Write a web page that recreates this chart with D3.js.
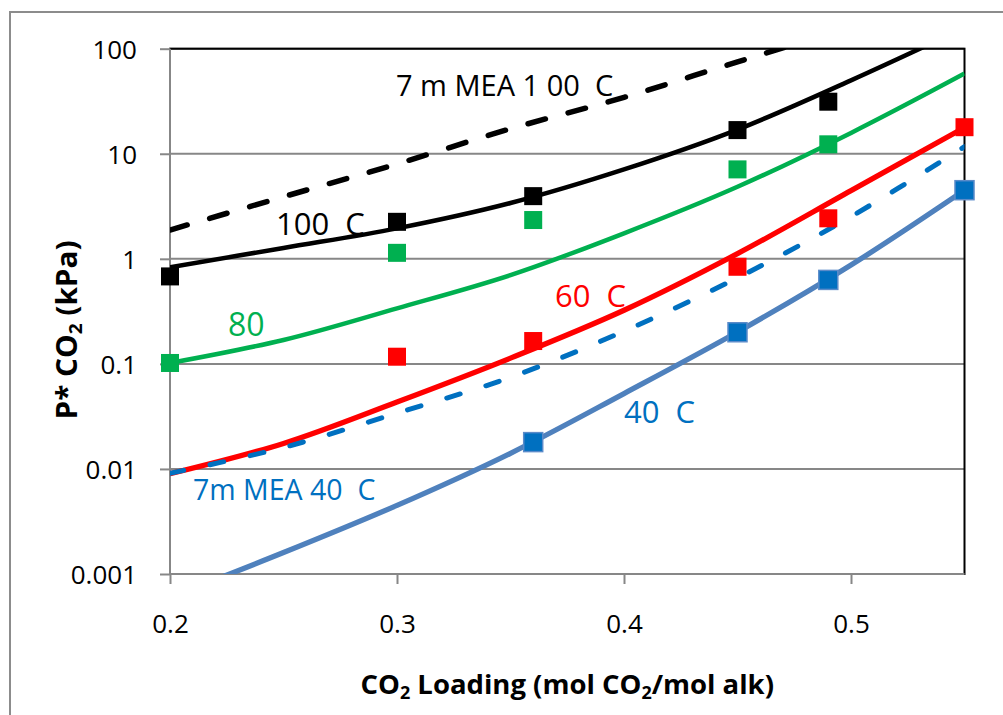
<!DOCTYPE html>
<html>
<head>
<meta charset="utf-8">
<script src="https://cdn.jsdelivr.net/npm/d3@7"></script>
<style>
  html, body { margin: 0; padding: 0; background: #fff; }
  svg { display: block; font-family: "Open Sans", "Noto Sans", sans-serif; }
  .lbl { white-space: pre; }
</style>
</head>
<body>
<svg id="chart" width="1003" height="715"></svg>
<script>
// Axis ticks
const xTicks = [0.2, 0.3, 0.4, 0.5];
const xTickLabels = ["0.2", "0.3", "0.4", "0.5"];
const yTicks = [0.001, 0.01, 0.1, 1, 10, 100];
const yTickLabels = ["0.001", "0.01", "0.1", "1", "10", "100"];

// Measured P* CO2 (kPa) vs CO2 loading
const loading100 = [0.2, 0.3, 0.36, 0.45, 0.49];
const pstar100 = [0.68, 2.25, 3.95, 16.8, 31.3];
const loading80 = [0.2, 0.3, 0.36, 0.45, 0.49];
const pstar80 = [0.102, 1.14, 2.34, 7.1, 12.3];
const loading60 = [0.3, 0.36, 0.45, 0.49, 0.55];
const pstar60 = [0.117, 0.165, 0.84, 2.43, 17.9];
const loading40 = [0.36, 0.45, 0.49, 0.55];
const pstar40 = [0.018, 0.2, 0.63, 4.5];

// Model curves
const curveLoading = [0.2, 0.25, 0.3, 0.35, 0.4, 0.45, 0.5, 0.55];
const model100 = [0.83, 1.27, 1.95, 3.4, 7.1, 17, 50, 158];
const model80 = [0.102, 0.169, 0.338, 0.70, 1.75, 4.85, 15.8, 58];
const model60 = [0.009, 0.0175, 0.0434, 0.1135, 0.324, 1.12, 4.46, 17.8];
const model40 = [0.0006, 0.0016, 0.0045, 0.0141, 0.0522, 0.201, 0.873, 4.5];
// 7 m MEA reference curves
const mea40 = [0.0091, 0.016, 0.034, 0.0745, 0.205, 0.66, 2.52, 11.7];
const meaLoading100 = [0.2, 0.25, 0.3, 0.35, 0.4, 0.45, 0.5];
const mea100 = [1.88, 3.9, 8.0, 17.3, 34.4, 75, 160];

const svg = d3.select("#chart");
const plotL = 170, plotR = 964.5, plotT = 48.7, plotB = 574;

const x = d3.scaleLinear().domain([0.2, 0.55]).range([plotL, plotR]);
const y = d3.scaleLog().domain([0.001, 100]).range([plotB, plotT]);

const zip = (xs, ys) => xs.map((v, i) => ({ x: v, y: ys[i] }));

// chart area frame
svg.append("rect")
  .attr("x", 10).attr("y", 12).attr("width", 1010).attr("height", 720)
  .attr("fill", "#fff").attr("stroke", "#8c8c8c").attr("stroke-width", 2);

// horizontal gridlines at each decade
svg.append("g")
  .selectAll("line").data(yTicks).join("line")
  .attr("x1", plotL).attr("x2", plotR)
  .attr("y1", d => y(d)).attr("y2", d => y(d))
  .attr("stroke", "#878787").attr("stroke-width", 2);

// plot area border
svg.append("rect")
  .attr("x", plotL).attr("y", plotT).attr("width", plotR - plotL).attr("height", plotB - plotT)
  .attr("fill", "none").attr("stroke", "#000").attr("stroke-width", 2);

// axes
const yAxis = d3.axisLeft(y).tickValues(yTicks)
  .tickFormat((d, i) => yTickLabels[i]).tickSize(10).tickPadding(23);
const gy = svg.append("g").attr("transform", `translate(${plotL},0)`).call(yAxis);

const xAxis = d3.axisBottom(x).tickValues(xTicks)
  .tickFormat((d, i) => xTickLabels[i]).tickSize(10).tickPadding(31);
const gx = svg.append("g").attr("transform", `translate(0,${plotB})`).call(xAxis);

[gx, gy].forEach(g => {
  g.select(".domain").attr("stroke", "#878787").attr("stroke-width", 2);
  g.selectAll(".tick line").attr("stroke", "#878787").attr("stroke-width", 2);
  g.selectAll(".tick text").attr("fill", "#000")
    .style("font-family", "'Open Sans', sans-serif").style("font-size", "26px");
});
gy.select(".domain").attr("d", `M0,${plotT}V${plotB}`);
gx.select(".domain").attr("d", `M${plotL},0H${plotR}`);
gy.selectAll(".tick text").attr("dy", "0.37em");

// clip for curves
svg.append("clipPath").attr("id", "plotClip")
  .append("rect").attr("x", plotL).attr("y", plotT)
  .attr("width", plotR - plotL).attr("height", plotB - plotT);

const line = d3.line().x(d => x(d.x)).y(d => y(d.y)).curve(d3.curveCatmullRom.alpha(0.5));
const curves = svg.append("g").attr("clip-path", "url(#plotClip)");

function drawCurve(data, color, width, dash) {
  const p = curves.append("path").datum(data)
    .attr("d", line).attr("fill", "none")
    .attr("stroke", color).attr("stroke-width", width);
  if (dash) p.attr("stroke-dasharray", dash).attr("stroke-linecap", "round");
  return p;
}

drawCurve(zip(meaLoading100, mea100), "#000", 5.5, "18,23.5");
drawCurve(zip(curveLoading, model100), "#000", 4.5);
drawCurve(zip(curveLoading, model80), "#00B050", 4.5);
drawCurve(zip(curveLoading, model60), "#FF0000", 5.3);
drawCurve(zip(curveLoading, model40), "#4F81BD", 5.3);
drawCurve(zip(curveLoading, mea40), "#0070C0", 5, "14,27");

// measured points
function drawMarkers(data, fill, size, stroke) {
  const g = svg.append("g");
  g.selectAll("rect").data(data).join("rect")
    .attr("x", d => x(d.x) - size / 2).attr("y", d => y(d.y) - size / 2)
    .attr("width", size).attr("height", size)
    .attr("fill", fill)
    .attr("stroke", stroke || "none").attr("stroke-width", stroke ? 1.5 : 0);
}
drawMarkers(zip(loading100, pstar100), "#000", 18);
drawMarkers(zip(loading80, pstar80), "#00B050", 18);
drawMarkers(zip(loading60, pstar60), "#FF0000", 18);
drawMarkers(zip(loading40, pstar40), "#0070C0", 19, "#5B8BC9");

// curve labels
const labels = [
  { text: "7 m MEA 1 00  C", x: 396, y: 96, size: 29, color: "#000" },
  { text: "100  C", x: 276, y: 235, size: 31, color: "#000" },
  { text: "80", x: 228, y: 336, size: 32, color: "#00B050" },
  { text: "60  C", x: 555, y: 307, size: 31, color: "#FF0000" },
  { text: "40  C", x: 624, y: 423, size: 31, color: "#0070C0" },
  { text: "7m MEA 40  C", x: 193, y: 500, size: 28.5, color: "#0070C0" }
];
svg.append("g").selectAll("text").data(labels).join("text")
  .attr("class", "lbl")
  .attr("x", d => d.x).attr("y", d => d.y)
  .attr("fill", d => d.color)
  .style("font-size", d => d.size + "px")
  .text(d => d.text);

// axis titles
const xt = svg.append("text")
  .attr("x", (plotL + plotR) / 2).attr("y", 694)
  .attr("text-anchor", "middle")
  .style("font-size", "27.5px").style("font-weight", "bold");
xt.append("tspan").text("CO");
xt.append("tspan").attr("baseline-shift", "-25%").style("font-size", "18px").text("2");
xt.append("tspan").text(" Loading (mol CO");
xt.append("tspan").attr("baseline-shift", "-25%").style("font-size", "18px").text("2");
xt.append("tspan").text("/mol alk)");

const yt = svg.append("text")
  .attr("transform", "translate(77,330) rotate(-90)")
  .attr("text-anchor", "middle")
  .style("font-size", "28px").style("font-weight", "bold")
  .attr("textLength", 179).attr("lengthAdjust", "spacingAndGlyphs");
yt.append("tspan").text("P* CO");
yt.append("tspan").attr("baseline-shift", "-25%").style("font-size", "18px").text("2");
yt.append("tspan").text(" (kPa)");
</script>
</body>
</html>
